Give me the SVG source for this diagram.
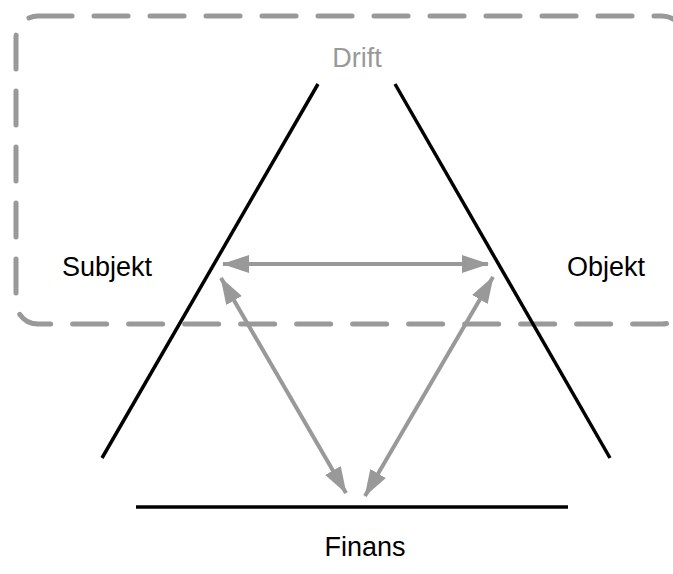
<svg xmlns="http://www.w3.org/2000/svg" width="673" height="574" viewBox="0 0 673 574">
<style>
.lbl{font-family:"Liberation Sans",Arial,sans-serif;font-size:27px;fill:#000;text-anchor:middle}
.drift{fill:#999}
.side{stroke:#000;stroke-width:3.5;fill:none;stroke-linecap:butt}
.arr{stroke:#999;stroke-width:4;fill:none;marker-start:url(#ah);marker-end:url(#ah)}
.box{fill:none;stroke:#999;stroke-width:5;stroke-dasharray:34 22;stroke-linecap:round}
</style>
<defs>
<marker id="ah" markerUnits="userSpaceOnUse" viewBox="0 0 27 18" refX="26" refY="9" markerWidth="27" markerHeight="18" orient="auto-start-reverse">
<path d="M0,0 L27,9 L0,18 Z" fill="#999"/>
</marker>
</defs>
<g id="drift">
<rect class="box" x="16" y="16" width="668" height="308" rx="22" ry="22"/>
<text class="lbl drift" x="357" y="67">Drift</text>
</g>
<g id="subjekt">
<line class="side" x1="318" y1="84" x2="102" y2="458"/>
<text class="lbl" x="107" y="276">Subjekt</text>
</g>
<g id="objekt">
<line class="side" x1="395" y1="84" x2="610" y2="458"/>
<text class="lbl" x="606" y="276">Objekt</text>
</g>
<g id="finans">
<line class="side" x1="136" y1="507" x2="568" y2="507"/>
<text class="lbl" x="365" y="556">Finans</text>
</g>
<g id="connectors">
<line class="arr" x1="223" y1="264" x2="488" y2="264"/>
<line class="arr" x1="221" y1="278" x2="346" y2="493"/>
<line class="arr" x1="493" y1="277" x2="365" y2="496"/>
</g>
</svg>
